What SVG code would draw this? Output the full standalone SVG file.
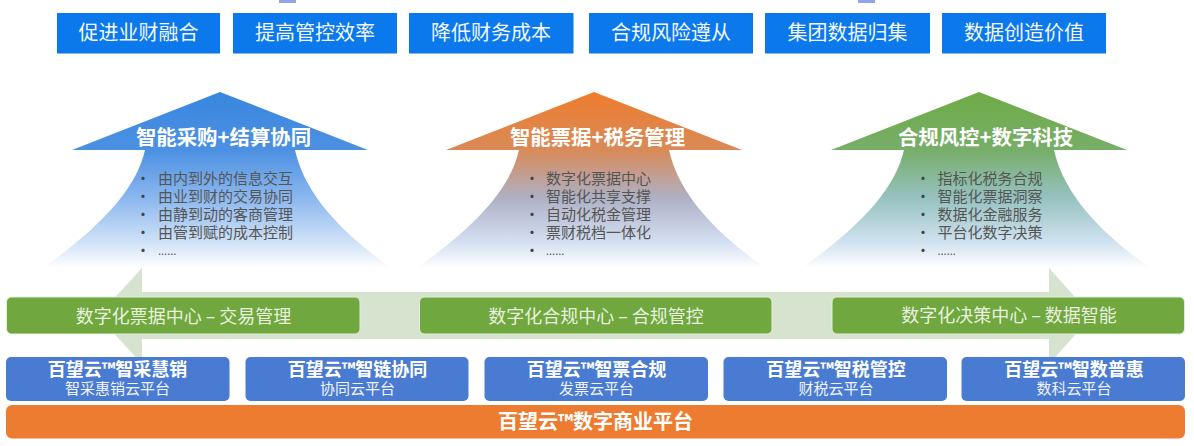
<svg xmlns="http://www.w3.org/2000/svg" width="1194" height="446" viewBox="0 0 1194 446">
<style>
text{font-family:"Noto Sans CJK SC","Noto Sans",sans-serif;dominant-baseline:central;text-anchor:middle}
.top{fill:#0b78ec}
.toptxt{fill:#f2f8ff;font-size:20px}
.atitle{fill:#fff;font-size:20.4px;font-weight:700}
.li{fill:#555;font-size:15px;text-anchor:start}
.dot{fill:#444;font-size:15px}
.gbox{fill:#70a73f;stroke:#e2efd9;stroke-width:1}
.gtxt{fill:#e8f2de;font-size:18px}
.bbox{fill:#4a7bd2}
.btitle{fill:#fff;font-size:18px;font-weight:700}
.bsub{fill:#f0f4fc;font-size:15px}
</style>
<defs>
<linearGradient id="gb" gradientUnits="userSpaceOnUse" x1="0" y1="92" x2="0" y2="268">
<stop offset="0" stop-color="#3987df"/><stop offset="0.33" stop-color="#4c90e2"/><stop offset="0.6" stop-color="#8ab7ee"/><stop offset="0.85" stop-color="#cfe1f7"/><stop offset="1" stop-color="#fff"/>
</linearGradient>
<linearGradient id="go" gradientUnits="userSpaceOnUse" x1="0" y1="92" x2="0" y2="268">
<stop offset="0" stop-color="#ee7c2e"/><stop offset="0.33" stop-color="#d98a58"/><stop offset="0.6" stop-color="#aeb0c4"/><stop offset="0.85" stop-color="#d3dff1"/><stop offset="1" stop-color="#fff"/>
</linearGradient>
<linearGradient id="gg" gradientUnits="userSpaceOnUse" x1="0" y1="92" x2="0" y2="268">
<stop offset="0" stop-color="#6fab45"/><stop offset="0.33" stop-color="#77ae6a"/><stop offset="0.6" stop-color="#95c2bf"/><stop offset="0.85" stop-color="#cfe1ef"/><stop offset="1" stop-color="#fff"/>
</linearGradient>
<path id="up" d="M0 92L148 150H75C84 190 115 228 170 267H-176C-121 228 -84 190 -75 150H-148Z"/>
</defs>

<rect x="279" y="0" width="17" height="3" fill="#8fa5e8"/>
<rect x="858" y="0" width="17" height="3" fill="#8fa5e8"/>

<g id="goal-1"><rect class="top" x="57" y="13" width="163" height="40.500"/><text class="toptxt" x="138.500" y="31.500">促进业财融合</text></g>
<g id="goal-2"><rect class="top" x="233" y="13" width="164" height="40.500"/><text class="toptxt" x="315" y="31.500">提高管控效率</text></g>
<g id="goal-3"><rect class="top" x="409" y="13" width="164.500" height="40.500"/><text class="toptxt" x="491" y="31.500">降低财务成本</text></g>
<g id="goal-4"><rect class="top" x="589" y="13" width="164" height="40.500"/><text class="toptxt" x="671" y="31.500">合规风险遵从</text></g>
<g id="goal-5"><rect class="top" x="765" y="13" width="165" height="40.500"/><text class="toptxt" x="847.500" y="31.500">集团数据归集</text></g>
<g id="goal-6"><rect class="top" x="942" y="13" width="164" height="40.500"/><text class="toptxt" x="1024" y="31.500">数据创造价值</text></g>

<g id="pillar-1">
<use href="#up" x="220" fill="url(#gb)"/>
<text class="atitle" x="223.500" y="135.500">智能采购+结算协同</text>
<g class="list">
<text class="dot" x="143" y="177">•</text><text class="li" x="158" y="177.500">由内到外的信息交互</text>
<text class="dot" x="143" y="195">•</text><text class="li" x="158" y="195.500">由业到财的交易协同</text>
<text class="dot" x="143" y="213">•</text><text class="li" x="158" y="213.500">由静到动的客商管理</text>
<text class="dot" x="143" y="231">•</text><text class="li" x="158" y="231.500">由管到赋的成本控制</text>
<text class="dot" x="143" y="249">•</text><text class="li" x="158" y="250" style="font-size:11px">......</text>
</g>
</g>
<g id="pillar-2">
<use href="#up" x="594" fill="url(#go)"/>
<text class="atitle" x="597.500" y="135.500">智能票据+税务管理</text>
<g class="list">
<text class="dot" x="532" y="177">•</text><text class="li" x="546" y="177.500">数字化票据中心</text>
<text class="dot" x="532" y="195">•</text><text class="li" x="546" y="195.500">智能化共享支撑</text>
<text class="dot" x="532" y="213">•</text><text class="li" x="546" y="213.500">自动化税金管理</text>
<text class="dot" x="532" y="231">•</text><text class="li" x="546" y="231.500">票财税档一体化</text>
<text class="dot" x="532" y="249">•</text><text class="li" x="546" y="250" style="font-size:11px">......</text>
</g>
</g>
<g id="pillar-3">
<use href="#up" x="979" fill="url(#gg)"/>
<text class="atitle" x="985.500" y="135.500">合规风控+数字科技</text>
<g class="list">
<text class="dot" x="923" y="177">•</text><text class="li" x="937.500" y="177.500">指标化税务合规</text>
<text class="dot" x="923" y="195">•</text><text class="li" x="937.500" y="195.500">智能化票据洞察</text>
<text class="dot" x="923" y="213">•</text><text class="li" x="937.500" y="213.500">数据化金融服务</text>
<text class="dot" x="923" y="231">•</text><text class="li" x="937.500" y="231.500">平台化数字决策</text>
<text class="dot" x="923" y="249">•</text><text class="li" x="937.500" y="250" style="font-size:11px">......</text>
</g>
</g>

<g id="connectors">
<path d="M98 316L142 268V292H1049V268L1092 316L1049 364V339H142V364Z" fill="#d5e3cf"/>
</g>

<g id="center-1"><rect class="gbox" x="6.500" y="297" width="353.500" height="37" rx="5"/><text class="gtxt" x="183.500" y="314.500">数字化票据中心 – 交易管理</text></g>
<g id="center-2"><rect class="gbox" x="419.500" y="297" width="352.500" height="37" rx="5"/><text class="gtxt" x="596" y="314.500">数字化合规中心 – 合规管控</text></g>
<g id="center-3"><rect class="gbox" x="832" y="297" width="352.500" height="37" rx="5"/><text class="gtxt" x="1009" y="313.500">数字化决策中心 – 数据智能</text></g>

<g id="platform-1"><rect class="bbox" x="6" y="357" width="223.500" height="44" rx="5"/><text class="btitle" x="117.500" y="368">百望云™智采慧销</text><text class="bsub" x="117.500" y="387.500">智采惠销云平台</text></g>
<g id="platform-2"><rect class="bbox" x="245.500" y="357" width="223" height="44" rx="5"/><text class="btitle" x="357.500" y="368">百望云™智链协同</text><text class="bsub" x="357.500" y="387.500">协同云平台</text></g>
<g id="platform-3"><rect class="bbox" x="484.500" y="357" width="223.500" height="44" rx="5"/><text class="btitle" x="596.500" y="368">百望云™智票合规</text><text class="bsub" x="596.500" y="387.500">发票云平台</text></g>
<g id="platform-4"><rect class="bbox" x="723.500" y="357" width="223.500" height="44" rx="5"/><text class="btitle" x="836" y="368">百望云™智税管控</text><text class="bsub" x="836" y="387.500">财税云平台</text></g>
<g id="platform-5"><rect class="bbox" x="961.500" y="357" width="223.500" height="44" rx="5"/><text class="btitle" x="1074" y="368">百望云™智数普惠</text><text class="bsub" x="1074" y="387.500">数科云平台</text></g>

<g id="base"><rect x="6" y="405" width="1179" height="33.500" rx="6" fill="#ed7c30"/><text x="595.500" y="420.500" fill="#fff" font-size="20px" font-weight="700">百望云™数字商业平台</text></g>
</svg>
